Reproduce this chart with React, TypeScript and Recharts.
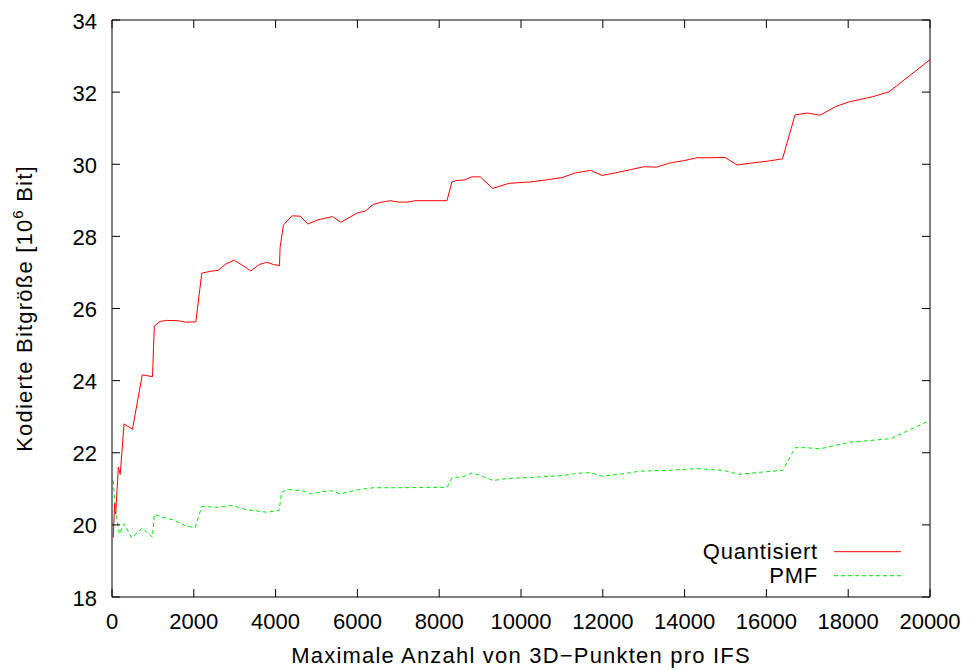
import { Label, Line, LineChart, XAxis, YAxis } from "recharts";

// Quantisiert (red, solid)
const quantX = [
  30, 65, 90, 155, 200, 295, 500, 740, 990, 1035, 1175, 1340, 1620, 1810, 2050,
  2195, 2400, 2600, 2790, 2990, 3200, 3395, 3600, 3785, 3950, 4095, 4110, 4190,
  4400, 4600, 4790, 5010, 5390, 5595, 6000, 6190, 6395, 6600, 6800, 7005, 7210,
  7415, 8190, 8310, 8435, 8600, 8800, 9005, 9305, 9700, 10230, 10640, 11005,
  11330, 11700, 11980, 12350, 12675, 13000, 13310, 13655, 13980, 14305, 14635,
  14985, 15285, 15690, 16055, 16395, 16700, 17000, 17310, 17695, 18020, 18590,
  19000, 20000,
];
const quantY = [
  19.65, 20.6, 20.3, 21.6, 21.4, 22.8, 22.65, 24.16, 24.11, 25.51, 25.64, 25.67,
  25.66, 25.62, 25.63, 26.98, 27.03, 27.06, 27.24, 27.34, 27.19, 27.04, 27.22,
  27.28, 27.22, 27.19, 27.7, 28.31, 28.57, 28.56, 28.34, 28.45, 28.55, 28.39,
  28.65, 28.7, 28.89, 28.95, 28.99, 28.95, 28.95, 28.99, 28.99, 29.51, 29.55,
  29.56, 29.65, 29.65, 29.33, 29.47, 29.51, 29.57, 29.63, 29.76, 29.83, 29.69,
  29.77, 29.85, 29.93, 29.92, 30.04, 30.1, 30.18, 30.18, 30.19, 29.98, 30.04,
  30.09, 30.15, 31.37, 31.42, 31.36, 31.6, 31.73, 31.87, 32.01, 32.9,
];

// PMF (green, dashed)
const pmfX = [
  30, 65, 100, 180, 295, 480, 740, 990, 1035, 1300, 1500, 1785, 2030, 2195, 2600,
  2930, 3295, 3785, 4085, 4150, 4315, 4640, 4845, 5335, 5595, 5990, 6395, 7045,
  7700, 8190, 8310, 8600, 8800, 9005, 9315, 9700, 10310, 11045, 11370, 11700,
  11985, 12390, 12920, 13575, 14305, 14960, 15325, 15855, 16400, 16700, 16960,
  17325, 18020, 19040, 20000,
];
const pmfY = [
  21.23, 20.68, 20.35, 19.75, 20.03, 19.64, 19.91, 19.66, 20.29, 20.19, 20.14,
  19.98, 19.92, 20.51, 20.49, 20.54, 20.42, 20.35, 20.4, 20.91, 20.98, 20.95,
  20.86, 20.95, 20.86, 20.97, 21.03, 21.03, 21.04, 21.04, 21.31, 21.34, 21.44,
  21.37, 21.23, 21.29, 21.32, 21.37, 21.43, 21.45, 21.35, 21.4, 21.49, 21.51,
  21.56, 21.51, 21.4, 21.46, 21.51, 22.14, 22.14, 22.11, 22.29, 22.39, 22.9,
];

const xTicks = [0, 2000, 4000, 6000, 8000, 10000, 12000, 14000, 16000, 18000, 20000];
const yTicks = [18, 20, 22, 24, 26, 28, 30, 32, 34];

const seriesNames = ["Quantisiert", "PMF"];
const seriesColors = ["#ff0000", "#00ee00"];
const seriesDash = ["", "4 3"];

const quantData = quantX.map((x, i) => ({ x, y: quantY[i] }));
const pmfData = pmfX.map((x, i) => ({ x, y: pmfY[i] }));

const font = "'Liberation Sans', Arial, Helvetica, sans-serif";
const TICK = 8;

// gnuplot-like ticks: small marks pointing into the plot
function BottomTick({ x, y, payload }: any) {
  return (
    <g>
      <line x1={x} x2={x} y1={y} y2={y - TICK} stroke="#000" />
      <text x={x} y={y + 32} textAnchor="middle" fontSize={22} fontFamily={font} fill="#000">
        {payload.value}
      </text>
    </g>
  );
}

function LeftTick({ x, y, payload }: any) {
  return (
    <g>
      <line x1={x} x2={x + TICK} y1={y} y2={y} stroke="#000" />
      <text x={x - 15} y={y + 8.5} textAnchor="end" fontSize={22} fontFamily={font} fill="#000">
        {payload.value}
      </text>
    </g>
  );
}

function TopTick({ x, y }: any) {
  return <line x1={x} x2={x} y1={y} y2={y + TICK} stroke="#000" />;
}

function RightTick({ x, y }: any) {
  return <line x1={x} x2={x - TICK} y1={y} y2={y} stroke="#000" />;
}

function YTitle(props: any) {
  const { x, y, height } = props.viewBox;
  const cx = x + 20;
  const cy = y + height / 2;
  return (
    <text
      x={cx}
      y={cy}
      transform={`rotate(-90, ${cx}, ${cy})`}
      textAnchor="middle"
      fontSize={22}
      fontFamily={font}
      letterSpacing={1.2}
      fill="#000"
    >
      Kodierte Bitgröße [10
      <tspan dy={-9} fontSize={15}>
        6
      </tspan>
      <tspan dy={9}> Bit]</tspan>
    </text>
  );
}

function XTitle(props: any) {
  const { x, y, width } = props.viewBox;
  return (
    <text
      x={x + width / 2}
      y={y + 66}
      textAnchor="middle"
      fontSize={22}
      fontFamily={font}
      letterSpacing={1.2}
      fill="#000"
    >
      Maximale Anzahl von 3D−Punkten pro IFS
    </text>
  );
}

function KeyBox() {
  return (
    <svg
      width={240}
      height={60}
      style={{ position: "absolute", left: 680, top: 535 }}
    >
      {seriesNames.map((name, i) => (
        <g key={name}>
          <text
            x={138}
            y={24 + i * 24}
            textAnchor="end"
            fontSize={22}
            fontFamily={font}
            letterSpacing={0.8}
            fill="#000"
          >
            {name}
          </text>
          <line
            x1={154}
            x2={221}
            y1={16.7 + i * 24}
            y2={16.7 + i * 24}
            stroke={seriesColors[i]}
            strokeDasharray={seriesDash[i]}
          />
        </g>
      ))}
    </svg>
  );
}

export default function App() {
  return (
    <div style={{ position: "absolute", left: 0, top: 0, background: "#fff" }}>
      <LineChart
        width={972}
        height={670}
        margin={{ top: 19, right: 41, bottom: 13, left: 12 }}
        style={{ fontFamily: font }}
      >
        <XAxis
          xAxisId="b"
          type="number"
          dataKey="x"
          domain={[0, 20000]}
          ticks={xTicks}
          interval={0}
          height={60}
          tick={BottomTick}
          tickLine={false}
          tickSize={0}
          tickMargin={0}
          stroke="#000"
          allowDataOverflow
        >
          <Label content={XTitle} />
        </XAxis>
        <XAxis
          xAxisId="t"
          orientation="top"
          type="number"
          dataKey="x"
          domain={[0, 20000]}
          ticks={xTicks}
          interval={0}
          height={1}
          tick={TopTick}
          tickLine={false}
          tickSize={0}
          tickMargin={0}
          stroke="#000"
          allowDataOverflow
        />
        <YAxis
          yAxisId="l"
          type="number"
          domain={[18, 34]}
          ticks={yTicks}
          interval={0}
          width={100}
          tick={LeftTick}
          tickLine={false}
          tickSize={0}
          tickMargin={0}
          stroke="#000"
          allowDataOverflow
        >
          <Label content={YTitle} />
        </YAxis>
        <YAxis
          yAxisId="r"
          orientation="right"
          type="number"
          domain={[18, 34]}
          ticks={yTicks}
          interval={0}
          width={1}
          tick={RightTick}
          tickLine={false}
          tickSize={0}
          tickMargin={0}
          stroke="#000"
          allowDataOverflow
        />
        <Line
          xAxisId="b"
          yAxisId="r"
          data={quantData}
          dataKey="y"
          name={seriesNames[0]}
          stroke={seriesColors[0]}
          strokeWidth={1}
          dot={false}
          isAnimationActive={false}
        />
        <Line
          xAxisId="t"
          yAxisId="l"
          data={pmfData}
          dataKey="y"
          name={seriesNames[1]}
          stroke={seriesColors[1]}
          strokeWidth={1}
          strokeDasharray={seriesDash[1]}
          dot={false}
          isAnimationActive={false}
        />
      </LineChart>
      <KeyBox />
    </div>
  );
}
